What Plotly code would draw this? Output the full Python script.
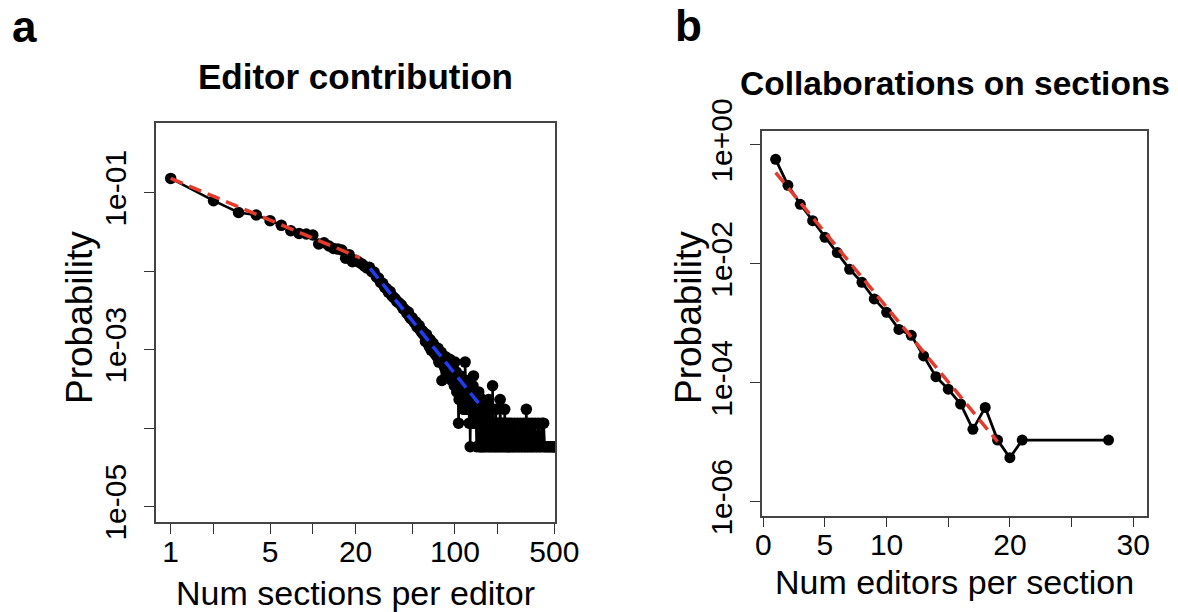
import numpy as np
import plotly.graph_objects as go

# ---------------- Panel a: Editor contribution ----------------
num_editors = 17250
body_sections = list(range(1, 151))
body_counts = [
    2622, 1363, 966, 897, 759, 662, 566, 523, 514, 499,
    383, 398, 361, 336, 330, 321, 252, 280, 228, 238,
    226, 215, 201, 190, 193, 170, 168, 146, 141, 124,
    121, 108, 104, 93, 95, 84, 80, 77, 71, 69,
    66, 64, 58, 57, 54, 50, 52, 45, 43, 44,
    40, 38, 39, 34, 33, 35, 31, 29, 30, 27,
    28, 22, 27, 21, 24, 19, 23, 17, 20, 21,
    16, 19, 15, 17, 14, 18, 12, 15, 13, 16,
    7, 14, 11, 13, 10, 14, 9, 12, 10, 11,
    8, 13, 9, 10, 7, 11, 8, 9, 6, 12,
    7, 9, 5, 8, 6, 2, 4, 7, 5, 8,
    6, 4, 7, 5, 3, 6, 4, 12, 5, 3,
    6, 4, 7, 3, 5, 2, 4, 1, 3, 5,
    2, 4, 3, 6, 8, 2, 3, 4, 2, 5,
    3, 1, 4, 2, 3, 2, 5, 1, 3, 2,
]
tail_sections = [151, 153, 154, 156, 157, 158, 160, 161, 163, 165,
                 166, 168, 170, 172, 173, 175, 177, 178, 180, 183,
                 184, 186, 188, 190, 192, 194, 196, 199, 201, 203,
                 206, 208, 211, 213, 216, 219, 222, 224, 227, 230,
                 233, 236, 240, 243, 247, 250, 254, 258, 262, 266,
                 270, 275, 279, 284, 289, 293, 298, 303, 308, 312,
                 318, 322, 327, 333, 338, 344, 350, 355, 361, 368,
                 374, 381, 388, 395, 401, 409, 416, 421, 428, 437,
                 446, 455, 464, 473, 482, 491, 499, 507]
tail_counts = [1, 2, 1, 4, 1, 2, 3, 1, 2, 1,
               3, 2, 1, 2, 4, 1, 2, 1, 3, 1,
               6, 2, 1, 2, 1, 3, 1, 2, 1, 2,
               1, 4, 1, 2, 1, 2, 1, 3, 1, 2,
               1, 1, 2, 1, 1, 2, 1, 1, 2, 1,
               1, 2, 1, 1, 2, 1, 1, 2, 1, 1,
               3, 1, 1, 2, 1, 1, 2, 1, 1, 2,
               1, 1, 2, 1, 1, 2, 1, 2, 1, 1,
               1, 1, 1, 1, 1, 1, 1, 1]

# power-law fits (p = c * n^-alpha)
head_fit = dict(c=0.1524, alpha=0.76, n_from=1, n_to=21.5)
tail_fit = dict(c=15.6, alpha=2.25, n_from=25.3, n_to=147)

# ---------------- Panel b: Collaborations on sections ----------------
editors_per_section = [1, 2, 3, 4, 5, 6, 7, 8, 9, 10, 11, 12, 13, 14, 15,
                       16, 17, 18, 19, 20, 21, 28]
section_prob = [0.574, 0.21, 0.1005, 0.0533, 0.028, 0.0155, 0.0081, 0.0049,
                0.00257, 0.00153, 7.9e-4, 6.3e-4, 2.83e-4, 1.27e-4, 7.8e-5,
                4.4e-5, 1.65e-5, 3.86e-5, 1.09e-5, 5.5e-6, 1.09e-5, 1.09e-5]
# exponential fit: log10 p = a + b * k
exp_fit = dict(a=-0.215, b=-0.2513, k_from=1, k_to=19)

# ---------------- derived ----------------
n_all = np.array(body_sections + tail_sections, dtype=float)
p_all = np.array(body_counts + tail_counts, dtype=float) / num_editors

def power_line(f):
    n = np.logspace(np.log10(f["n_from"]), np.log10(f["n_to"]), 50)
    return n, f["c"] * n ** (-f["alpha"])

hn, hp = power_line(head_fit)
tn, tp = power_line(tail_fit)
ek = np.linspace(exp_fit["k_from"], exp_fit["k_to"], 50)
ep = 10 ** (exp_fit["a"] + exp_fit["b"] * ek)

W, H = 1178, 612
def px(x):
    return x / W
def py(y):
    return 1 - y / H

RED = "#E53B2C"
BLUE = "#1F3DF5"
FONT = "Liberation Sans, Arial, sans-serif"

fig = go.Figure()
fig.add_trace(go.Scatter(x=n_all, y=p_all, mode="lines+markers",
                         line=dict(color="black", width=2.5),
                         marker=dict(color="black", size=11.5),
                         xaxis="x", yaxis="y", showlegend=False, hoverinfo="skip"))
fig.add_trace(go.Scatter(x=hn, y=hp, mode="lines",
                         line=dict(color=RED, width=3.5, dash="13px,7px"),
                         xaxis="x", yaxis="y", showlegend=False))
fig.add_trace(go.Scatter(x=tn, y=tp, mode="lines",
                         line=dict(color=BLUE, width=3.5, dash="13px,7px"),
                         xaxis="x", yaxis="y", showlegend=False))
fig.add_trace(go.Scatter(x=editors_per_section, y=section_prob, mode="lines+markers",
                         line=dict(color="black", width=2.8),
                         marker=dict(color="black", size=11),
                         xaxis="x2", yaxis="y2", showlegend=False))
fig.add_trace(go.Scatter(x=ek, y=ep, mode="lines",
                         line=dict(color=RED, width=3.5, dash="13px,7px"),
                         xaxis="x2", yaxis="y2", showlegend=False))

axis_common = dict(showline=True, linecolor="#444", linewidth=1.5, mirror=True,
                   ticks="outside", ticklen=10, tickwidth=1.2, tickcolor="#333",
                   showgrid=False, zeroline=False, automargin=False,
                   tickfont=dict(family=FONT, size=30, color="black"))

fig.update_layout(
    template="none",
    width=W, height=H, margin=dict(l=0, r=0, t=0, b=0, pad=0),
    paper_bgcolor="white", plot_bgcolor="white",
    xaxis=dict(type="log", domain=[px(156), px(555)], range=[-0.1035, 2.704], anchor="y",
               tickvals=[1, 2, 5, 10, 20, 50, 100, 200, 500],
               ticktext=["1", "", "5", "", "20", "", "100", "", "500"],
               ticklabelstandoff=-8, **axis_common),
    yaxis=dict(type="log", domain=[py(522), py(123)], range=[-5.195, -0.112], anchor="x",
               tickvals=[1e-1, 1e-2, 1e-3, 1e-4, 1e-5],
               ticktext=["1e-01", "", "1e-03", "", "1e-05"], tickangle=-90,
               ticklabelstandoff=6, **axis_common),
    xaxis2=dict(domain=[px(761.7), px(1147)], range=[-0.13, 31.12], anchor="y2",
                tickvals=[0, 5, 10, 15, 20, 25, 30],
                ticktext=["0", "5", "10", "", "20", "", "30"],
                ticklabelstandoff=-8, **axis_common),
    yaxis2=dict(type="log", domain=[py(515.7), py(130.7)], range=[-6.235, 0.24], anchor="x2",
                tickvals=[1, 1e-2, 1e-4, 1e-6],
                ticktext=["1e+00", "1e-02", "1e-04", "1e-06"], tickangle=-90,
                ticklabelstandoff=6, **axis_common),
)

def ann(text, x, y, size, bold=False, angle=0, xanchor="center"):
    fig.add_annotation(text=f"<b>{text}</b>" if bold else text,
                       x=px(x), y=py(y), xref="paper", yref="paper",
                       xanchor=xanchor, yanchor="middle", showarrow=False,
                       textangle=angle, font=dict(family=FONT, size=size, color="black"))

ann("a", 10, 27, 44, bold=True, xanchor="left")
ann("b", 673, 26, 44, bold=True, xanchor="left")
ann("Editor contribution", 355, 76, 35, bold=True)
ann("Collaborations on sections", 955, 84, 33.5, bold=True)
ann("Probability", 79, 318, 37, angle=-90)
ann("Probability", 688, 318, 37, angle=-90)
ann("Num sections per editor", 355, 593, 34)
ann("Num editors per section", 954, 582, 34)

fig.write_html("out.html", config={"displayModeBar": False},
               post_script="document.body.style.margin='0';document.body.style.overflow='hidden';")
